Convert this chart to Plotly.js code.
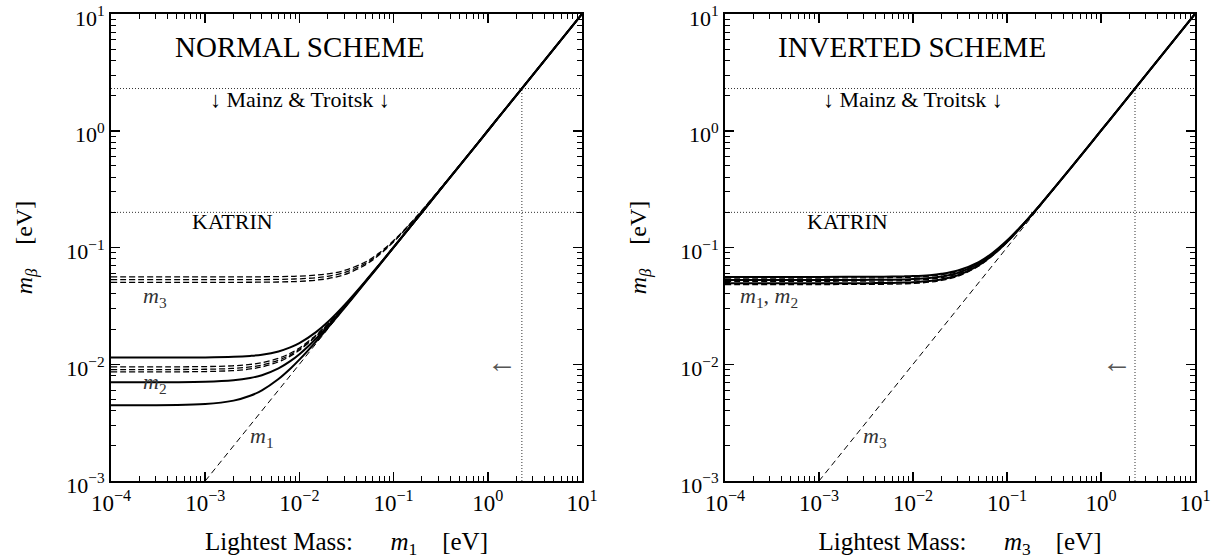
<!DOCTYPE html>
<html>
<head>
<meta charset="utf-8">
<script src="https://cdn.plot.ly/plotly-3.0.1.min.js"></script>
<style>html,body{margin:0;padding:0;background:#fff;}#chart{width:1226px;height:559px;}</style>
</head>
<body>
<div id="chart"></div>
<script>
// ---- data ----
const lightestMass = [1e-4, 1e-3, 2e-3, 3e-3, 4e-3, 6e-3, 8e-3, 1e-2, 1.5e-2, 2e-2, 3e-2, 5e-2, 7e-2, 0.1, 0.15, 0.2, 0.5, 1, 2, 5, 10];

// NORMAL scheme: m_beta (solid)
const normalBetaHigh = [0.0114, 0.01144, 0.01157, 0.01179, 0.01208, 0.01288, 0.01393, 0.01516, 0.01884, 0.0230, 0.0321, 0.0513, 0.0709, 0.1006, 0.1504, 0.2003, 0.5, 1, 2, 5, 10];
const normalBetaMid  = [0.0070, 0.00707, 0.00728, 0.00762, 0.00806, 0.00922, 0.01063, 0.0122, 0.01655, 0.0212, 0.0308, 0.0505, 0.0703, 0.1002, 0.1502, 0.2001, 0.5, 1, 2, 5, 10];
const normalBetaLow  = [0.00445, 0.00456, 0.00488, 0.00537, 0.00598, 0.00747, 0.00915, 0.01095, 0.01565, 0.0205, 0.0303, 0.0502, 0.0701, 0.1001, 0.1501, 0.2, 0.5, 1, 2, 5, 10];
// NORMAL scheme: m2 (dashed)
const normalM2a = [0.0095, 0.00955, 0.00971, 0.00996, 0.01031, 0.01124, 0.01242, 0.01379, 0.01776, 0.02214, 0.03147, 0.0509, 0.0706, 0.1005, 0.1503, 0.2002, 0.5, 1, 2, 5, 10];
const normalM2b = [0.0090, 0.00906, 0.00922, 0.00949, 0.00985, 0.01082, 0.01204, 0.01345, 0.01749, 0.02193, 0.03132, 0.0508, 0.0706, 0.1004, 0.1503, 0.2002, 0.5, 1, 2, 5, 10];
const normalM2c = [0.0086, 0.00866, 0.00883, 0.00911, 0.00949, 0.01049, 0.01175, 0.01318, 0.0173, 0.02176, 0.03121, 0.05073, 0.07053, 0.10037, 0.15025, 0.20018, 0.5, 1, 2, 5, 10];
// NORMAL scheme: m3 (dashed)
const normalM3a = [0.056, 0.05601, 0.05604, 0.05608, 0.05614, 0.05632, 0.05657, 0.05689, 0.05797, 0.05946, 0.06353, 0.07507, 0.08964, 0.11461, 0.16011, 0.20769, 0.50313, 1.00157, 2.00078, 5.0003, 10];
const normalM3b = [0.053, 0.05301, 0.05304, 0.05308, 0.05315, 0.05334, 0.0536, 0.05394, 0.05508, 0.05665, 0.0609, 0.07286, 0.0878, 0.11318, 0.15909, 0.2069, 0.5028, 1.0014, 2.0007, 5.0003, 10];
const normalM3c = [0.0503, 0.05031, 0.05034, 0.05039, 0.05046, 0.05066, 0.05093, 0.05128, 0.05249, 0.05414, 0.05857, 0.07092, 0.0862, 0.11195, 0.1582, 0.20623, 0.50252, 1.00126, 2.00063, 5.0003, 10];

// INVERTED scheme: m_beta (solid)
const invBetaHigh = [0.056, 0.05601, 0.05604, 0.05608, 0.05614, 0.05632, 0.05657, 0.05689, 0.05797, 0.05946, 0.06353, 0.07507, 0.08964, 0.11461, 0.16011, 0.20769, 0.50313, 1.00157, 2.00078, 5.0003, 10];
const invBetaMid  = [0.0527, 0.05271, 0.05274, 0.05279, 0.05285, 0.05304, 0.0533, 0.05364, 0.0548, 0.05639, 0.06064, 0.07265, 0.08763, 0.11302, 0.15898, 0.20682, 0.50277, 1.00139, 2.00069, 5.0003, 10];
const invBetaLow  = [0.0494, 0.04941, 0.04944, 0.04949, 0.04956, 0.04976, 0.05004, 0.0504, 0.05162, 0.05329, 0.05779, 0.07029, 0.08567, 0.11153, 0.15792, 0.20601, 0.50243, 1.00122, 2.00061, 5.0002, 10];
// INVERTED scheme: m1, m2 (dashed)
const invM12a = [0.0548, 0.05481, 0.05484, 0.05488, 0.05495, 0.05513, 0.05538, 0.05571, 0.05682, 0.05834, 0.06247, 0.07418, 0.0889, 0.11403, 0.1597, 0.20737, 0.503, 1.0015, 2.00075, 5.0003, 10];
const invM12b = [0.0514, 0.05141, 0.05144, 0.05149, 0.05156, 0.05175, 0.05202, 0.05236, 0.05354, 0.05516, 0.05951, 0.07171, 0.08685, 0.11244, 0.15856, 0.2065, 0.50264, 1.00132, 2.00066, 5.0003, 10];
const invM12c = [0.0482, 0.04821, 0.04824, 0.04829, 0.04836, 0.04857, 0.04886, 0.04922, 0.05048, 0.05218, 0.05677, 0.06945, 0.08499, 0.11101, 0.15755, 0.20573, 0.50232, 1.00116, 2.00058, 5.0002, 10];

// lightest mass itself (diagonal dashed)
const diagX = [1e-3, 10];
const diagY = [1e-3, 10];

// experimental limits
const mainzTroitskLimit = 2.3;
const katrinLimit = 0.2;

// axis ticks
const xTickVals = [1e-4, 1e-3, 1e-2, 1e-1, 1, 10];
const xTickText = ["10<sup>\u22124</sup>", "10<sup>\u22123</sup>", "10<sup>\u22122</sup>", "10<sup>\u22121</sup>", "10<sup>0</sup>", "10<sup>1</sup>"];
const yTickVals = [1e-3, 1e-2, 1e-1, 1, 10];
const yTickText = ["10<sup>\u22123</sup>", "10<sup>\u22122</sup>", "10<sup>\u22121</sup>", "10<sup>0</sup>", "10<sup>1</sup>"];

// ---- helpers ----
function minorVals(d0, d1) {
  const out = [];
  for (let d = d0; d < d1; d++) for (let k = 2; k <= 9; k++) out.push(k * Math.pow(10, d));
  return out;
}
const FONT = "Liberation Serif, Times New Roman, serif";
const solid = {color: "#000", width: 2, shape: "spline"};
const dashed = {color: "#000", width: 1.3, dash: "6px,3px", shape: "spline"};
const dotted = {color: "#333", width: 1, dash: "1px,2px"};

function curve(y, line, xa, ya) {
  return {x: lightestMass, y: y, type: "scatter", mode: "lines", line: line, xaxis: xa, yaxis: ya, hoverinfo: "skip", showlegend: false};
}
function seg(x, y, line, xa, ya) {
  return {x: x, y: y, type: "scatter", mode: "lines", line: line, xaxis: xa, yaxis: ya, hoverinfo: "skip", showlegend: false};
}

const traces = [
  // left
  seg([1e-4, 10], [mainzTroitskLimit, mainzTroitskLimit], dotted, "x", "y"),
  seg([1e-4, 10], [katrinLimit, katrinLimit], dotted, "x", "y"),
  seg([mainzTroitskLimit, mainzTroitskLimit], [1e-3, mainzTroitskLimit], dotted, "x", "y"),
  seg(diagX, diagY, {color: "#000", width: 1, dash: "6px,4px"}, "x", "y"),
  curve(normalM3a, dashed, "x", "y"),
  curve(normalM3b, dashed, "x", "y"),
  curve(normalM3c, dashed, "x", "y"),
  curve(normalM2a, dashed, "x", "y"),
  curve(normalM2b, dashed, "x", "y"),
  curve(normalM2c, dashed, "x", "y"),
  curve(normalBetaHigh, solid, "x", "y"),
  curve(normalBetaMid, solid, "x", "y"),
  curve(normalBetaLow, solid, "x", "y"),
  // right
  seg([1e-4, 10], [mainzTroitskLimit, mainzTroitskLimit], dotted, "x2", "y2"),
  seg([1e-4, 10], [katrinLimit, katrinLimit], dotted, "x2", "y2"),
  seg([mainzTroitskLimit, mainzTroitskLimit], [1e-3, mainzTroitskLimit], dotted, "x2", "y2"),
  seg(diagX, diagY, {color: "#000", width: 1, dash: "6px,4px"}, "x2", "y2"),
  curve(invBetaHigh, solid, "x2", "y2"),
  curve(invBetaMid, solid, "x2", "y2"),
  curve(invBetaLow, solid, "x2", "y2"),
  curve(invM12a, dashed, "x2", "y2"),
  curve(invM12b, dashed, "x2", "y2"),
  curve(invM12c, dashed, "x2", "y2")
];

function xAxis(domain, anchor, label) {
  return {
    type: "log", range: [-4, 1], domain: domain, anchor: anchor,
    showline: true, linewidth: 2, linecolor: "#000", mirror: "allticks",
    ticks: "inside", ticklen: 9, tickwidth: 1.5, tickcolor: "#000",
    tickmode: "array", tickvals: xTickVals, ticktext: xTickText,
    tickfont: {family: FONT, size: 23, color: "#000"}, ticklabeloverflow: "allow",
    minor: {tickmode: "array", tickvals: minorVals(-4, 1), ticks: "inside", ticklen: 5, tickwidth: 1, tickcolor: "#000", showgrid: false},
    showgrid: false, zeroline: false, automargin: false,
    title: {text: label, font: {family: FONT, size: 25, color: "#000"}, standoff: 19}
  };
}
function yAxis(anchor, label) {
  return {
    type: "log", range: [-3, 1], domain: [0, 1], anchor: anchor,
    showline: true, linewidth: 2, linecolor: "#000", mirror: "allticks",
    ticks: "inside", ticklen: 9, tickwidth: 1.5, tickcolor: "#000",
    tickmode: "array", tickvals: yTickVals, ticktext: yTickText,
    tickfont: {family: FONT, size: 22, color: "#000"}, ticklabeloverflow: "allow",
    ticklabelshift: 4,
    minor: {tickmode: "array", tickvals: minorVals(-3, 1), ticks: "inside", ticklen: 5, tickwidth: 1, tickcolor: "#000", showgrid: false},
    showgrid: false, zeroline: false, automargin: false,
    title: {text: label, font: {family: FONT, size: 24, color: "#000"}, standoff: 27}
  };
}

const NB = "\u00a0";
const xLabel1 = "Lightest Mass:" + NB.repeat(6) + "<i>m</i><sub>1</sub>" + NB.repeat(4) + "[eV]";
const xLabel2 = "Lightest Mass:" + NB.repeat(6) + "<i>m</i><sub>3</sub>" + NB.repeat(4) + "[eV]";
const yLabel = "<i>m</i><sub><i>\u03b2</i></sub>" + NB.repeat(4) + "[eV]";

function ann(xref, yref, x, y, text, size, color) {
  return {xref: xref, yref: yref, x: x, y: y, text: text, showarrow: false,
    xanchor: "center", yanchor: "middle", font: {family: FONT, size: size, color: color || "#000"}};
}

const annotations = [
  ann("x domain", "y domain", 0.401, 0.929, "NORMAL SCHEME", 29),
  ann("x domain", "y domain", 0.401, 0.816, "\u2193 Mainz &amp; Troitsk \u2193", 22),
  ann("x domain", "y domain", 0.259, 0.555, "KATRIN", 22),
  ann("x domain", "y domain", 0.093, 0.394, "<i>m</i><sub>3</sub>", 22, "#333"),
  ann("x domain", "y domain", 0.093, 0.210, "<i>m</i><sub>2</sub>", 22, "#333"),
  ann("x domain", "y domain", 0.321, 0.094, "<i>m</i><sub>1</sub>", 22, "#333"),
  ann("x domain", "y domain", 0.830, 0.255, "\u2190", 30, "#555"),

  ann("x2 domain", "y2 domain", 0.398, 0.929, "INVERTED SCHEME", 29),
  ann("x2 domain", "y2 domain", 0.400, 0.816, "\u2193 Mainz &amp; Troitsk \u2193", 22),
  ann("x2 domain", "y2 domain", 0.260, 0.555, "KATRIN", 22),
  ann("x2 domain", "y2 domain", 0.094, 0.394, "<i>m</i><sub>1</sub>, <i>m</i><sub>2</sub>", 22, "#333"),
  ann("x2 domain", "y2 domain", 0.319, 0.094, "<i>m</i><sub>3</sub>", 22, "#333"),
  ann("x2 domain", "y2 domain", 0.834, 0.255, "\u2190", 30, "#555")
];

const layout = {
  width: 1226, height: 559,
  margin: {l: 0, r: 0, t: 14, b: 78, pad: 0},
  paper_bgcolor: "#fff", plot_bgcolor: "#fff",
  showlegend: false,
  font: {family: FONT, color: "#000"},
  xaxis: xAxis([111 / 1226, 582 / 1226], "y", xLabel1),
  yaxis: yAxis("x", yLabel),
  xaxis2: xAxis([725 / 1226, 1195 / 1226], "y2", xLabel2),
  yaxis2: yAxis("x2", yLabel),
  annotations: annotations
};

Plotly.newPlot("chart", traces, layout, {staticPlot: true, displayModeBar: false});
</script>
</body>
</html>
